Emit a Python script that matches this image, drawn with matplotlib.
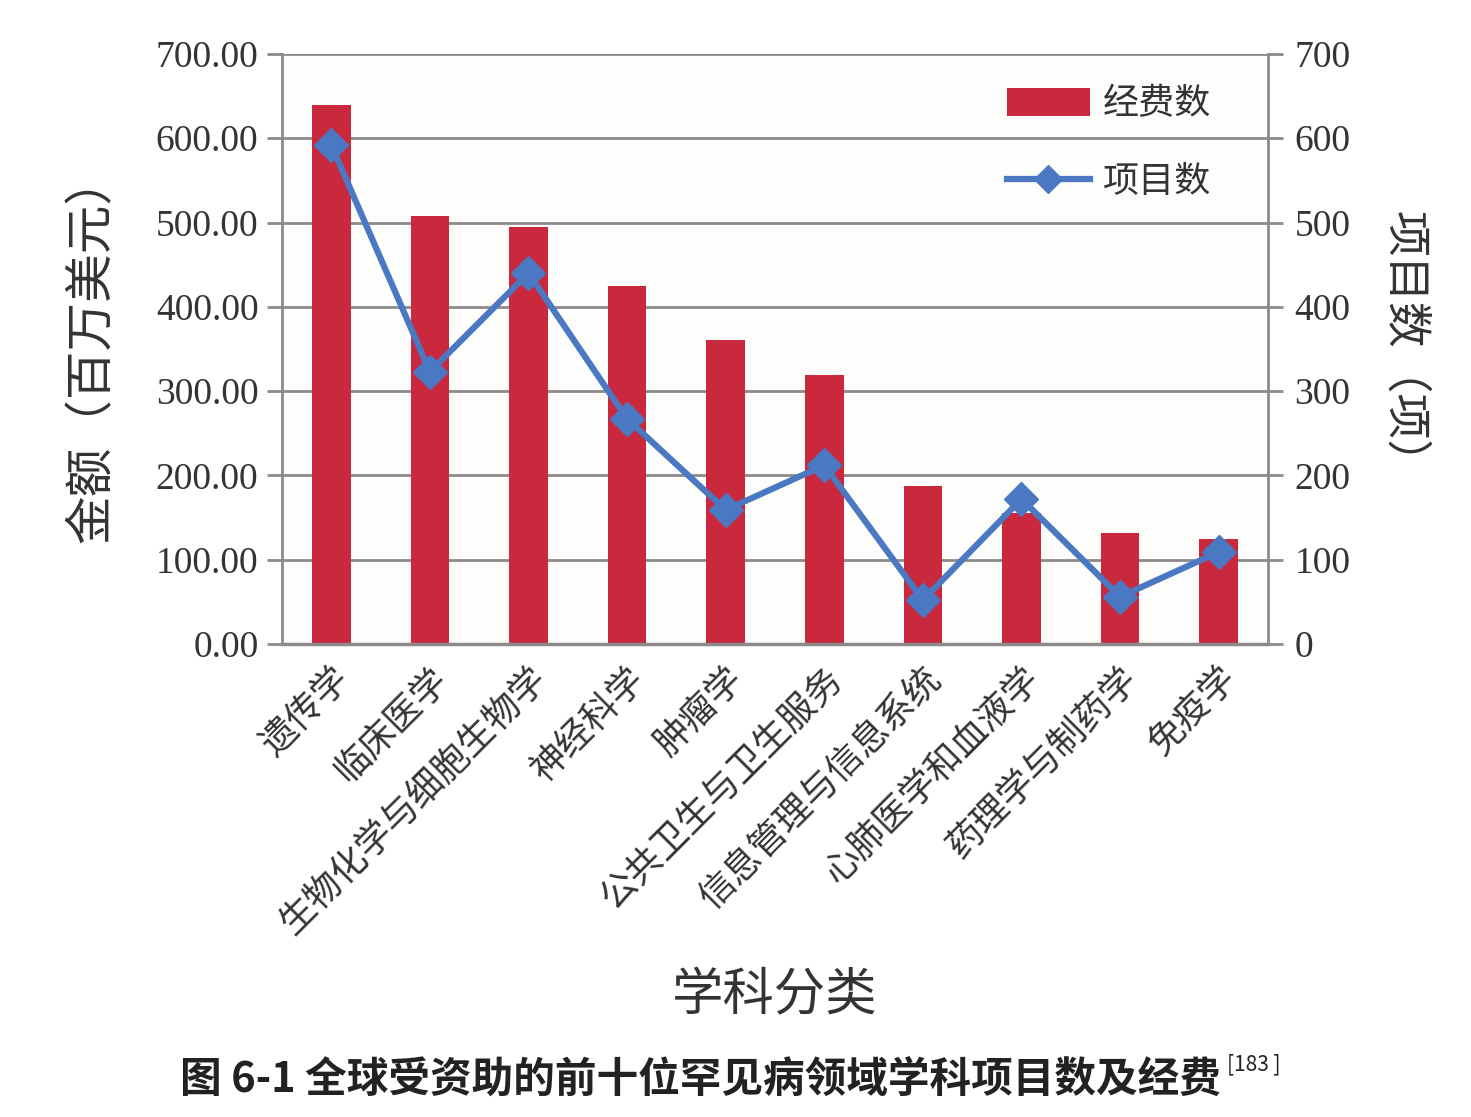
import matplotlib
matplotlib.use("Agg")
import matplotlib.pyplot as plt
from matplotlib.lines import Line2D
from matplotlib.patches import Patch
import numpy as np

# -----------------------------
# data
# -----------------------------
subjects = ["遗传学", "临床医学", "生物化学与细胞生物学", "神经科学", "肿瘤学",
            "公共卫生与卫生服务", "信息管理与信息系统", "心肺医学和血液学",
            "药理学与制药学", "免疫学"]
funding = [639, 508, 495, 425, 361, 319, 187, 155, 132, 125]      # 百万美元
projects = [592, 323, 440, 267, 159, 212, 52, 172, 56, 109]       # 项
left_ticks = [0, 100, 200, 300, 400, 500, 600, 700]

CJK = ["Noto Sans CJK SC", "DejaVu Sans"]
NUM = "Liberation Serif"
BAR_RED = "#c9283d"
LINE_BLUE = "#4a78c2"
GRID = "#8f8a8a"
TXT = "#333333"

fig = plt.figure(figsize=(14.71, 11.17), dpi=100, facecolor="white")
ax = fig.add_axes([0.1917, 0.4235, 0.6703, 0.5282])
ax.set_facecolor("#fdfdfb")

x = np.arange(len(subjects))
ax.bar(x, funding, width=0.39, color=BAR_RED, zorder=2)
ax.set_xlim(-0.5, len(subjects) - 0.5)
ax.set_ylim(0, 700)
ax.set_yticks(left_ticks)
ax.set_yticklabels([f"{v:.2f}" for v in left_ticks], fontfamily=NUM,
                   fontsize=27, color=TXT)
ax.yaxis.grid(True, color=GRID, linewidth=2, zorder=0)
ax.tick_params(axis="y", direction="out", length=11, width=2, color=GRID, pad=6)

ax.set_xticks(x)
ax.set_xticklabels(subjects, rotation=45, ha="right", va="top",
                   rotation_mode="anchor", fontfamily=CJK, fontsize=26,
                   color=TXT)
ax.tick_params(axis="x", length=0, pad=12)

for side in ["top", "right"]:
    ax.spines[side].set_visible(False)
ax.spines["left"].set_color(GRID)
ax.spines["left"].set_linewidth(2)
ax.spines["bottom"].set_color(GRID)
ax.spines["bottom"].set_linewidth(2.5)

ax.set_ylabel("金额（百万美元）", fontfamily=CJK, fontsize=35, color=TXT,
              labelpad=28)
ax.set_xlabel("学科分类", fontfamily=CJK, fontsize=37, color=TXT, labelpad=20)

# right axis: project counts
ax2 = ax.twinx()
ax2.plot(x, projects, color=LINE_BLUE, linewidth=4.5, marker="D",
         markersize=17, zorder=3)
ax2.set_ylim(0, 700)
ax2.set_yticks(left_ticks)
ax2.set_yticklabels([str(v) for v in left_ticks], fontfamily=NUM,
                    fontsize=27, color=TXT)
ax2.tick_params(axis="y", direction="out", length=11, width=2, color=GRID, pad=8)
for side in ["top", "left", "bottom"]:
    ax2.spines[side].set_visible(False)
ax2.spines["right"].set_color(GRID)
ax2.spines["right"].set_linewidth(2)
ax2.set_ylabel("项目数（项）", fontfamily=CJK, fontsize=33, color=TXT,
               rotation=270, labelpad=56)

handles = [Patch(facecolor=BAR_RED, edgecolor="none"),
           Line2D([], [], color=LINE_BLUE, linewidth=4.5, marker="D",
                  markersize=14)]
leg = ax2.legend(handles, ["经费数", "项目数"], loc="upper right",
                 bbox_to_anchor=(0.975, 1.0), frameon=False,
                 prop={"family": CJK, "size": 26}, handlelength=2.3,
                 handleheight=0.8, labelspacing=1.15, handletextpad=0.35)
for t in leg.get_texts():
    t.set_color(TXT)

fig.text(0.476, 0.033, "图 6-1 全球受资助的前十位罕见病领域学科项目数及经费",
         ha="center", va="center", fontfamily=CJK, fontsize=30,
         fontweight="bold", color="#222222")
fig.text(0.834, 0.047, "[183 ]", ha="left", va="center", fontfamily=CJK,
         fontsize=15, color="#222222")

fig.savefig("out.png", dpi=100, facecolor=fig.get_facecolor())
